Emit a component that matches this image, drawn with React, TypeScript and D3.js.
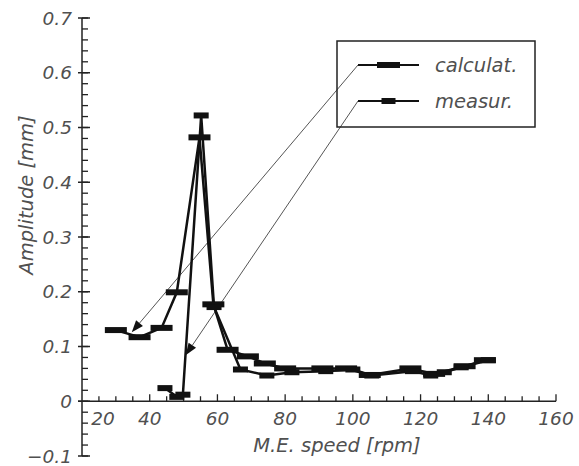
import React from 'react';
import * as d3 from 'd3';

// values
const calcRpm = [30, 37, 43.5, 48, 54.7, 58.8, 63, 69, 74, 80, 91, 98, 105, 117, 124, 133, 139];
const calcAmp = [0.13, 0.117, 0.134, 0.199, 0.482, 0.177, 0.094, 0.082, 0.069, 0.06, 0.06, 0.06, 0.048, 0.06, 0.05, 0.064, 0.075];

const measRpm = [44.5, 48, 49.8, 55.2, 59, 66.8, 74.6, 82, 92, 100, 105.6, 117.6, 123, 127, 132, 140];
const measAmp = [0.024, 0.008, 0.012, 0.522, 0.172, 0.058, 0.047, 0.053, 0.055, 0.058, 0.047, 0.055, 0.047, 0.053, 0.062, 0.075];

const xTicks = [20, 40, 60, 80, 100, 120, 140, 160];
const yTicks = [-0.1, 0, 0.1, 0.2, 0.3, 0.4, 0.5, 0.6, 0.7];
const seriesNames = ['calculat.', 'measur.'];
// where the legend arrows point at (rpm, amplitude)
const arrowTargets = [[34.7, 0.126], [50.6, 0.084]];

const W = 579;
const H = 466;
const font = '"DejaVu Sans", sans-serif';
const grey = '#505050';

export default function App() {
  const x = d3.scaleLinear().domain([20, 160]).range([82, 556]);
  const y = d3.scaleLinear().domain([-0.1, 0.7]).range([456, 18]);

  const line = d3.line<number[]>().x(d => x(d[0])).y(d => y(d[1]));
  const calc = calcRpm.map((r, i) => [r, calcAmp[i]]);
  const meas = measRpm.map((r, i) => [r, measAmp[i]]);

  const xMinor = d3.range(25, 161, 5);
  const yMinor = d3.range(-0.1, 0.7001, 0.02);

  const legendX = 358;
  const legendY = [65, 101];
  const markW = [22, 15];

  return (
    <svg width={W} height={H} style={{ position: 'absolute', left: 0, top: 0, background: '#fff' }}>
      {/* y axis */}
      <line x1={x(20)} x2={x(20)} y1={y(0.7)} y2={y(-0.1)} stroke="#222" strokeWidth={1.5} />
      {yMinor.map((v, i) => (
        <line key={'ym' + i} x1={x(20)} x2={x(20) + 6} y1={y(v)} y2={y(v)} stroke="#222" strokeWidth={1.3} />
      ))}
      {yTicks.map(v => (
        <g key={'yt' + v}>
          <line x1={x(20) - 4} x2={x(20) + 8} y1={y(v)} y2={y(v)} stroke="#222" strokeWidth={1.5} />
          <text x={x(20) - 10} y={y(v) + 6.5} textAnchor="end" fontFamily={font} fontStyle="italic"
            fontSize={18.5} fill={grey}>
            {v === 0 ? '0' : v < 0 ? '\u2212' + Math.abs(v).toFixed(1) : v.toFixed(1)}
          </text>
        </g>
      ))}

      {/* x axis */}
      <line x1={x(20) - 4} x2={x(160)} y1={y(0)} y2={y(0)} stroke="#222" strokeWidth={1.5} />
      {xMinor.map(v => (
        <line key={'xm' + v} x1={x(v)} x2={x(v)} y1={y(0)} y2={y(0) - (v % 20 === 0 ? 7 : 5)}
          stroke="#222" strokeWidth={1.3} />
      ))}
      {xTicks.map((v, i) => (
        <text key={'xt' + v} x={x(v) + (i === 0 ? 21 : 0)} y={y(0) + 24} textAnchor="middle"
          fontFamily={font} fontStyle="italic" fontSize={18.5} fill={grey}>{v}</text>
      ))}

      {/* axis titles */}
      <text x={337} y={452} textAnchor="middle" fontFamily={font} fontStyle="italic" fontSize={19.5} fill={grey}>
        M.E. speed [rpm]
      </text>
      <text transform="translate(33,195) rotate(-90)" textAnchor="middle" fontFamily={font}
        fontStyle="italic" fontSize={19.5} fill={grey}>Amplitude [mm]</text>

      {/* leader arrows from the legend */}
      {arrowTargets.map((t, i) => {
        const tx = x(t[0]);
        const ty = y(t[1]);
        const sx = legendX;
        const sy = legendY[i];
        const ang = Math.atan2(ty - sy, tx - sx);
        const len = 12;
        const wid = 4.5;
        const bx = tx - len * Math.cos(ang);
        const by = ty - len * Math.sin(ang);
        const px = -Math.sin(ang) * wid;
        const py = Math.cos(ang) * wid;
        return (
          <g key={'arr' + i}>
            <line x1={sx} y1={sy} x2={bx} y2={by} stroke="#555" strokeWidth={1} />
            <path d={`M${tx},${ty}L${bx + px},${by + py}L${bx - px},${by - py}Z`} fill="#111" />
          </g>
        );
      })}

      {/* data */}
      <path d={line(calc) || ''} fill="none" stroke="#111" strokeWidth={2.5} />
      <path d={line(meas) || ''} fill="none" stroke="#111" strokeWidth={2.5} />
      {calc.map((d, i) => (
        <rect key={'cm' + i} x={x(d[0]) - markW[0] / 2} y={y(d[1]) - 3} width={markW[0]} height={6} fill="#111" />
      ))}
      {meas.map((d, i) => (
        <rect key={'mm' + i} x={x(d[0]) - markW[1] / 2} y={y(d[1]) - 3} width={markW[1]} height={6} fill="#111" />
      ))}

      {/* legend */}
      <rect x={337} y={41} width={198} height={86} fill="none" stroke="#222" strokeWidth={1.5} />
      {seriesNames.map((name, i) => (
        <g key={name}>
          <line x1={legendX} x2={419} y1={legendY[i]} y2={legendY[i]} stroke="#111" strokeWidth={2} />
          <rect x={388.5 - (i === 0 ? 11.5 : 7)} y={legendY[i] - 3} width={i === 0 ? 23 : 14} height={6} fill="#111" />
          <text x={435} y={legendY[i] + 6.5} fontFamily={font} fontStyle="italic" fontSize={19.5} fill={grey}>{name}</text>
        </g>
      ))}
    </svg>
  );
}
